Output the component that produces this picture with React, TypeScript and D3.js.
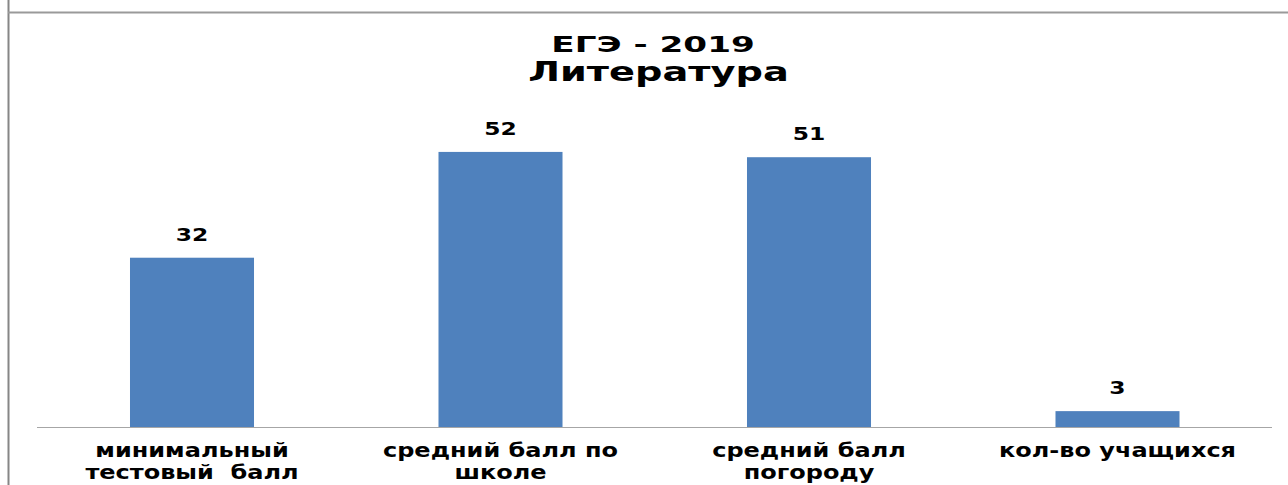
import React from "react";
import * as d3 from "d3";

const categories: string[][] = [
  ["минимальный", "тестовый  балл"],
  ["средний балл по", "школе"],
  ["средний балл", "погороду"],
  ["кол-во учащихся"],
];
const values: number[] = [32, 52, 51, 3];
const titleLines: string[] = ["ЕГЭ - 2019", "Литература"];

const W = 1288;
const H = 485;
const FONT = "'DejaVu Sans', Verdana, sans-serif";
const titleStyle = [
  { cx: 653, y: 51.5, size: 21, sx: 1.63 },
  { cx: 658.5, y: 81, size: 27, sx: 1.42 },
];

export default function App() {
  const ids = categories.map((_, i) => String(i));
  const x = d3.scaleBand<string>().domain(ids).range([37.75, 1271.75]).paddingInner(0.598).paddingOuter(0.299);
  const y = d3.scaleLinear().domain([0, 60]).range([427, 109.6]);
  const base = y(0);

  return (
    <svg width={W} height={H} style={{ position: "absolute", left: 0, top: 0, background: "#fff" }} fontFamily={FONT}>
      <line x1={8.5} x2={8.5} y1={0} y2={H} stroke="#868686" strokeWidth={2} />
      <line x1={8} x2={W} y1={12.5} y2={12.5} stroke="#9a9a9a" strokeWidth={2} />
      {titleLines.map((t, i) => (
        <g key={t} transform={`translate(${titleStyle[i].cx},${titleStyle[i].y}) scale(${titleStyle[i].sx},1)`}>
          <text textAnchor="middle" fontSize={titleStyle[i].size} fontWeight="bold" fill="#000">{t}</text>
        </g>
      ))}
      {values.map((v, i) => (
        <rect key={i} x={x(ids[i])} y={y(v)} width={x.bandwidth()} height={base - y(v)} fill="#4f81bd" />
      ))}
      <line x1={37} x2={1272} y1={427.5} y2={427.5} stroke="#a6a6a6" strokeWidth={1} />
      {values.map((v, i) => (
        <g key={"v" + i} transform={`translate(${x(ids[i])! + x.bandwidth() / 2},${y(v) - 17}) scale(1.3,1)`}>
          <text textAnchor="middle" fontSize={18} fontWeight="bold" fill="#000">{v}</text>
        </g>
      ))}
      {categories.map((lines, i) =>
        lines.map((l, j) => (
          <g key={"c" + i + j} transform={`translate(${x(ids[i])! + x.bandwidth() / 2},${457 + j * 22}) scale(1.2,1)`}>
            <text textAnchor="middle" fontSize={20} fontWeight="bold" fill="#000" style={{ whiteSpace: "pre" }}>{l}</text>
          </g>
        ))
      )}
    </svg>
  );
}
